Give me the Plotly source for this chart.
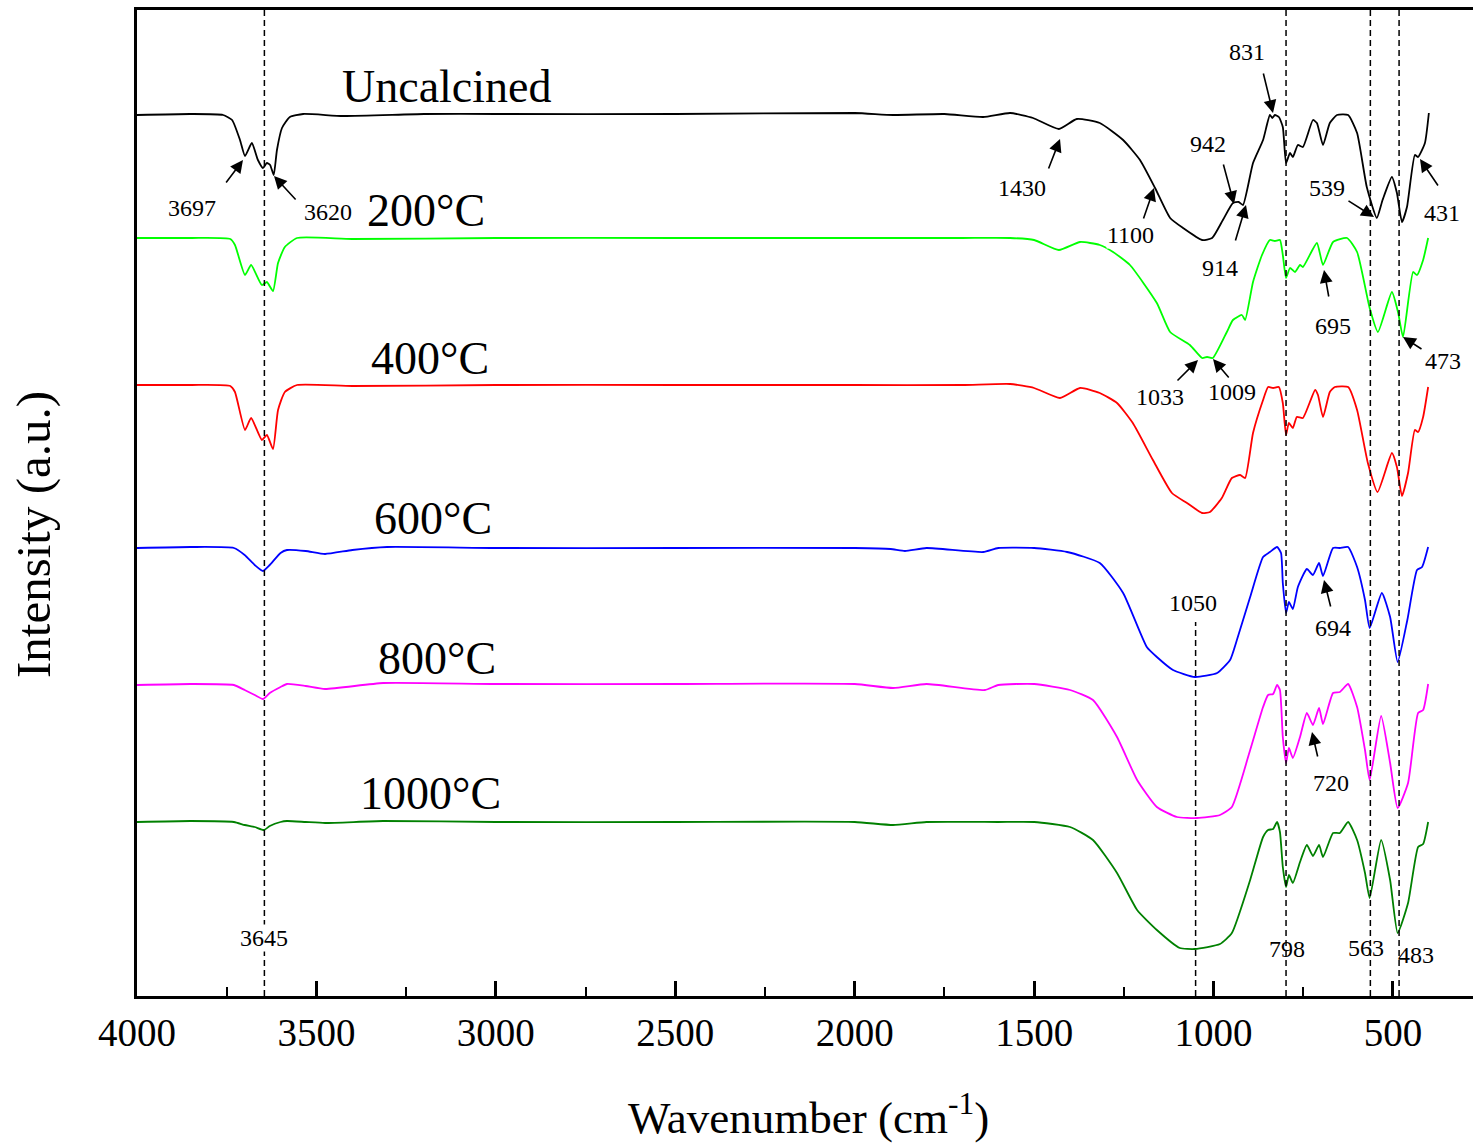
import plotly.graph_objects as go

# ---------------- data (wavenumber in cm-1, intensity in a.u., offset stacked) ----------------
wn_uncalcined = [4000, 3850, 3760, 3735, 3713, 3699, 3680, 3663, 3649, 3638,
                 3629, 3619, 3610, 3596, 3574, 3537, 3426, 3200, 3000, 2500,
                 2000, 1893, 1750, 1642, 1567, 1503, 1431, 1381, 1317, 1252,
                 1205, 1163, 1121, 1085, 1032, 1004, 974, 946, 930, 918,
                 890, 862, 843, 836, 829, 818, 807, 798, 787, 779,
                 765, 751, 723, 712, 695, 676, 656, 625, 600, 573,
                 545, 529, 503, 489, 475, 461, 439, 430, 411, 400]
int_uncalcined = [8.81, 8.82, 8.81, 8.76, 8.56, 8.40, 8.53, 8.36, 8.28, 8.33,
                  8.31, 8.21, 8.46, 8.68, 8.79, 8.82, 8.80, 8.82, 8.82, 8.82,
                  8.83, 8.81, 8.82, 8.79, 8.83, 8.78, 8.67, 8.77, 8.73, 8.56,
                  8.36, 8.08, 7.78, 7.68, 7.56, 7.58, 7.76, 7.93, 7.94, 7.91,
                  8.33, 8.56, 8.81, 8.78, 8.81, 8.79, 8.69, 8.33, 8.43, 8.39,
                  8.51, 8.49, 8.76, 8.73, 8.51, 8.73, 8.81, 8.81, 8.63, 8.09,
                  7.78, 7.96, 8.19, 8.03, 7.74, 7.89, 8.41, 8.39, 8.53, 8.83]

wn_200 = [4000, 3850, 3740, 3727, 3699, 3682, 3652, 3638, 3621, 3607,
          3588, 3554, 3400, 3000, 2500, 2000, 1700, 1567, 1500, 1431,
          1372, 1317, 1280, 1233, 1158, 1121, 1066, 1032, 1018, 1002,
          963, 946, 921, 912, 890, 865, 843, 829, 815, 807,
          798, 787, 773, 759, 751, 712, 695, 667, 628, 600,
          565, 542, 503, 486, 472, 444, 433, 416, 402]
int_200 = [7.58, 7.58, 7.57, 7.51, 7.21, 7.31, 7.11, 7.14, 7.05, 7.33,
           7.49, 7.58, 7.57, 7.58, 7.58, 7.58, 7.58, 7.58, 7.56, 7.46,
           7.54, 7.51, 7.44, 7.31, 6.93, 6.64, 6.51, 6.38, 6.39, 6.38,
           6.64, 6.76, 6.81, 6.76, 7.14, 7.41, 7.56, 7.55, 7.56, 7.41,
           7.18, 7.28, 7.24, 7.31, 7.29, 7.53, 7.31, 7.54, 7.58, 7.44,
           6.88, 6.64, 7.04, 6.84, 6.59, 7.24, 7.21, 7.36, 7.58]

wn_400 = [4000, 3850, 3740, 3727, 3699, 3682, 3652, 3638, 3621, 3607,
          3588, 3554, 3400, 3000, 2500, 2000, 1700, 1567, 1500, 1428,
          1372, 1317, 1269, 1225, 1169, 1116, 1074, 1032, 1010, 977,
          949, 926, 912, 890, 862, 848, 834, 818, 807, 798,
          790, 779, 768, 751, 717, 709, 695, 676, 662, 625,
          600, 570, 543, 503, 489, 475, 458, 439, 430, 416,
          402]
int_400 = [6.11, 6.11, 6.10, 6.04, 5.66, 5.78, 5.56, 5.61, 5.47, 5.86,
           6.04, 6.11, 6.10, 6.11, 6.11, 6.11, 6.11, 6.12, 6.08, 5.98,
           6.08, 6.03, 5.93, 5.73, 5.36, 5.03, 4.93, 4.83, 4.84, 4.98,
           5.18, 5.21, 5.18, 5.63, 5.96, 6.09, 6.08, 6.09, 5.93, 5.61,
           5.73, 5.68, 5.79, 5.78, 6.06, 6.01, 5.79, 6.04, 6.09, 6.09,
           5.86, 5.33, 5.04, 5.43, 5.29, 5.00, 5.23, 5.66, 5.64, 5.79,
           6.09]

wn_600 = [4000, 3850, 3730, 3700, 3672, 3649, 3630, 3600, 3582, 3530,
          3476, 3400, 3303, 3000, 2500, 2000, 1900, 1860, 1800, 1642,
          1600, 1500, 1408, 1317, 1252, 1186, 1158, 1113, 1052, 990,
          954, 935, 898, 862, 843, 823, 812, 807, 798, 790,
          779, 765, 740, 723, 706, 695, 667, 648, 625, 600,
          578, 565, 531, 508, 487, 460, 433, 419, 402]
int_600 = [4.48, 4.49, 4.48, 4.41, 4.31, 4.25, 4.31, 4.43, 4.46, 4.45,
           4.42, 4.46, 4.49, 4.48, 4.48, 4.48, 4.47, 4.45, 4.48, 4.44,
           4.48, 4.48, 4.44, 4.33, 4.03, 3.49, 3.39, 3.26, 3.19, 3.23,
           3.36, 3.56, 3.99, 4.39, 4.44, 4.49, 4.43, 4.13, 3.83, 3.94,
           3.87, 4.09, 4.27, 4.21, 4.33, 4.20, 4.48, 4.48, 4.49, 4.29,
           3.96, 3.68, 4.03, 3.79, 3.34, 3.76, 4.26, 4.29, 4.49]

wn_800 = [4000, 3850, 3730, 3700, 3672, 3649, 3630, 3600, 3582, 3530,
          3476, 3314, 3000, 2500, 2000, 1893, 1800, 1637, 1600, 1500,
          1400, 1336, 1269, 1213, 1158, 1102, 1046, 982, 949, 898,
          862, 848, 834, 823, 815, 807, 798, 790, 779, 759,
          740, 723, 706, 695, 667, 648, 625, 600, 578, 565,
          533, 508, 487, 458, 430, 416, 402]
int_800 = [3.11, 3.12, 3.11, 3.06, 3.01, 2.97, 3.03, 3.09, 3.12, 3.10,
           3.07, 3.13, 3.12, 3.12, 3.12, 3.08, 3.12, 3.06, 3.11, 3.12,
           3.06, 2.96, 2.59, 2.16, 1.89, 1.79, 1.78, 1.81, 1.89, 2.46,
           2.89, 3.01, 3.02, 3.11, 3.06, 2.59, 2.33, 2.48, 2.38, 2.59,
           2.83, 2.71, 2.88, 2.72, 3.03, 3.04, 3.12, 2.89, 2.46, 2.16,
           2.80, 2.33, 1.88, 2.13, 2.83, 2.86, 3.12]

wn_1000 = [4000, 3850, 3730, 3700, 3672, 3646, 3630, 3600, 3582, 3530,
           3476, 3314, 3000, 2500, 2000, 1893, 1800, 1600, 1500, 1400,
           1336, 1269, 1213, 1158, 1094, 1052, 982, 949, 898, 862,
           848, 834, 823, 815, 807, 798, 790, 779, 759, 740,
           723, 706, 695, 667, 648, 625, 600, 578, 565, 533,
           508, 487, 458, 430, 416, 402]
int_1000 = [1.74, 1.75, 1.74, 1.71, 1.69, 1.66, 1.70, 1.74, 1.75, 1.74,
            1.73, 1.75, 1.74, 1.74, 1.74, 1.71, 1.74, 1.74, 1.74, 1.69,
            1.56, 1.23, 0.86, 0.66, 0.48, 0.47, 0.52, 0.63, 1.16, 1.59,
            1.66, 1.67, 1.74, 1.64, 1.29, 1.09, 1.21, 1.13, 1.34, 1.51,
            1.40, 1.51, 1.39, 1.63, 1.63, 1.74, 1.56, 1.23, 0.98, 1.56,
            1.16, 0.63, 0.93, 1.49, 1.52, 1.74]

series_names = ["Uncalcined", "200°C", "400°C", "600°C", "800°C", "1000°C"]
series_wn = [wn_uncalcined, wn_200, wn_400, wn_600, wn_800, wn_1000]
series_int = [int_uncalcined, int_200, int_400, int_600, int_800, int_1000]
series_colors = ["#000000", "#00ff00", "#ff0000", "#0000ff", "#ff00ff", "#008000"]

marker_lines = [3645, 798, 563, 483]   # full-height dashed reference lines
line_1050 = 1050                        # partial dashed reference line

# ---------------- geometry helpers (reference pixel -> data) ----------------
X_MAX, X_MIN = 4000, 277
L_PX, R_PX, T_PX, B_PX = 137, 1473, 10, 996
Y_MAX = (B_PX - T_PX) / 100.0


def dx(px):
    return X_MAX - (px - L_PX) * (X_MAX - X_MIN) / (R_PX - L_PX)


def dy(py):
    return (B_PX - py) / 100.0


FONT = "Liberation Serif"

fig = go.Figure()
for name, x, y, c in zip(series_names, series_wn, series_int, series_colors):
    assert len(x) == len(y), name
    fig.add_trace(go.Scatter(x=x, y=y, mode="lines", name=name,
                             line=dict(color=c, width=1.8, shape="spline", smoothing=0.5),
                             hoverinfo="skip"))

shapes = []
for w in marker_lines:
    shapes.append(dict(type="line", xref="x", yref="paper", x0=w, x1=w, y0=0, y1=1,
                       line=dict(color="black", width=1.5, dash="6px,4px")))
shapes.append(dict(type="line", xref="x", yref="y", x0=line_1050, x1=line_1050,
                   y0=0, y1=dy(622), line=dict(color="black", width=1.5, dash="6px,4px")))

annotations = []
# curve labels
big_labels = [("Uncalcined", 446, 86), ("200°C", 426, 210), ("400°C", 430, 358),
              ("600°C", 433, 518), ("800°C", 437, 658), ("1000°C", 430, 793)]
for t, px, py in big_labels:
    annotations.append(dict(x=dx(px), y=dy(py), xref="x", yref="y", text=t, showarrow=False,
                            font=dict(family=FONT, size=46, color="black"),
                            xanchor="center", yanchor="middle"))

# peak labels: text, label px, label py, arrow tail, arrow head, white background
peak_labels = [
    ("3697", 192, 208, (225, 184), (243, 160), False),
    ("3620", 328, 212, (297, 201), (274, 176), False),
    ("1430", 1022, 188, (1048, 170), (1060, 139), False),
    ("1100", 1130, 235, (1143, 220), (1154, 188), True),
    ("942", 1208, 144, (1223, 163), (1234, 204), False),
    ("914", 1220, 268, (1235, 242), (1246, 205), False),
    ("831", 1247, 52, (1263, 72), (1273, 113), False),
    ("539", 1327, 188, (1347, 200), (1374, 217), False),
    ("431", 1442, 213, (1439, 187), (1420, 159), False),
    ("695", 1333, 326, (1329, 298), (1324, 270), False),
    ("473", 1443, 361, (1423, 350), (1403, 337), False),
    ("1033", 1160, 397, (1176, 382), (1198, 360), False),
    ("1009", 1232, 392, (1230, 379), (1213, 359), False),
    ("694", 1333, 628, (1331, 608), (1324, 580), False),
    ("720", 1331, 783, (1318, 758), (1312, 732), False),
    ("1050", 1193, 603, None, None, False),
    ("3645", 264, 938, None, None, True),
    ("798", 1287, 949, None, None, False),
    ("563", 1366, 948, None, None, False),
    ("483", 1416, 955, None, None, False),
]
for t, px, py, tail, head, bg in peak_labels:
    a = dict(x=dx(px), y=dy(py), xref="x", yref="y", text=t, showarrow=False,
             font=dict(family=FONT, size=24, color="black"),
             xanchor="center", yanchor="middle", borderpad=0)
    if bg:
        a["bgcolor"] = "white"
    annotations.append(a)
    if tail is not None:
        annotations.append(dict(x=dx(head[0]), y=dy(head[1]), ax=dx(tail[0]), ay=dy(tail[1]),
                                xref="x", yref="y", axref="x", ayref="y", text="",
                                showarrow=True, arrowhead=2, arrowsize=1.6, arrowwidth=1.6,
                                arrowcolor="black", standoff=0, startstandoff=0))

# axis titles
annotations.append(dict(xref="paper", yref="paper", x=(808 - L_PX) / (R_PX - L_PX),
                        y=(B_PX - 1114) / (B_PX - T_PX), text="Wavenumber (cm<sup>-1</sup>)",
                        showarrow=False, xanchor="center", yanchor="middle",
                        font=dict(family=FONT, size=45, color="black")))
annotations.append(dict(xref="paper", yref="paper", x=(33 - L_PX) / (R_PX - L_PX),
                        y=(B_PX - 535) / (B_PX - T_PX), text="Intensity (a.u.)", textangle=-90,
                        showarrow=False, xanchor="center", yanchor="middle",
                        font=dict(family=FONT, size=49, color="black")))

fig.update_layout(
    width=1473, height=1146,
    margin=dict(l=L_PX, r=1473 - R_PX, t=T_PX, b=1146 - B_PX, autoexpand=False),
    plot_bgcolor="white", paper_bgcolor="white", showlegend=False,
    font=dict(family=FONT, color="black"),
    shapes=shapes, annotations=annotations,
    xaxis=dict(range=[X_MAX, X_MIN], autorange=False, tick0=0, dtick=500,
               ticks="inside", ticklen=15, tickwidth=2.5, tickcolor="black",
               showline=True, linewidth=3, linecolor="black", mirror=True,
               showgrid=False, zeroline=False,
               tickfont=dict(family=FONT, size=39, color="black"),
               minor=dict(dtick=250, ticks="inside", ticklen=9, tickwidth=2.2,
                          tickcolor="black", showgrid=False)),
    yaxis=dict(range=[0, Y_MAX], autorange=False, showline=True, linewidth=3,
               linecolor="black", showticklabels=False, ticks="", showgrid=False,
               zeroline=False),
)

fig.write_html("out.html", config={"displayModeBar": False},
               post_script="document.body.style.margin='0';document.body.style.padding='0';")
